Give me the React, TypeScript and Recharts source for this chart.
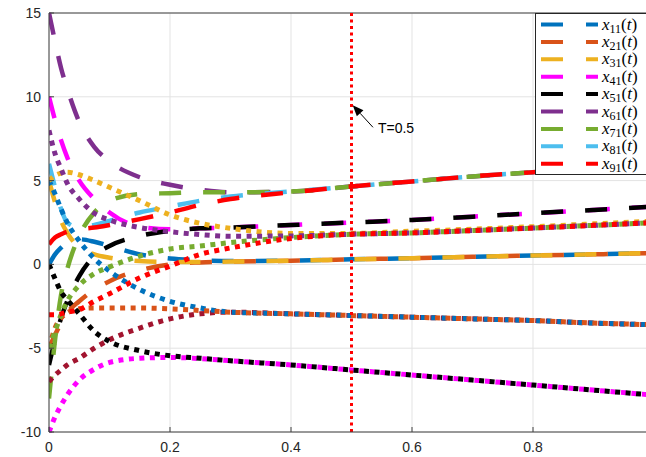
import { LineChart, Line, XAxis, YAxis, CartesianGrid, ReferenceLine } from "recharts";

// sample times
const t = [0, 0.01, 0.02, 0.03, 0.05, 0.075, 0.1, 0.15, 0.2, 0.25, 0.3, 0.4, 0.5, 0.6, 0.7, 0.8, 0.9, 1.0];

// first state of each agent (dashed)
const x11 = [0, 0.6, 1.0, 1.3, 1.5, 1.35, 1.1, 0.6, 0.35, 0.25, 0.2, 0.22, 0.3, 0.37, 0.45, 0.53, 0.6, 0.68];
const x21 = [-5, -4.2, -3.5, -2.9, -2.2, -1.5, -1.0, -0.35, 0.0, 0.12, 0.17, 0.22, 0.3, 0.37, 0.45, 0.53, 0.6, 0.68];
const x31 = [5, 3.7, 2.6, 1.9, 1.0, 0.6, 0.4, 0.2, 0.15, 0.15, 0.17, 0.22, 0.3, 0.37, 0.45, 0.53, 0.6, 0.68];
const x41 = [10, 8.6, 7.4, 6.4, 5.0, 3.9, 3.1, 2.25, 2.1, 2.15, 2.2, 2.35, 2.5, 2.65, 2.85, 3.05, 3.25, 3.45];
const x51 = [-6, -4.5, -3.2, -2.2, -0.7, 0.5, 1.1, 1.7, 2.0, 2.15, 2.2, 2.35, 2.5, 2.65, 2.85, 3.05, 3.25, 3.45];
const x61 = [15, 13.3, 11.7, 10.5, 8.5, 7.0, 6.15, 5.2, 4.75, 4.45, 4.3, 4.35, 4.65, 4.95, 5.25, 5.5, 5.8, 6.1];
const x71 = [-8, -4.5, -1.8, -0.3, 1.7, 3.1, 3.8, 4.2, 4.25, 4.3, 4.3, 4.35, 4.65, 4.95, 5.25, 5.5, 5.8, 6.1];
const x81 = [6, 4.6, 3.3, 2.5, 2.2, 2.35, 2.6, 3.1, 3.45, 3.8, 4.05, 4.35, 4.65, 4.95, 5.25, 5.5, 5.8, 6.1];
const x91 = [1.2, 1.6, 1.8, 1.95, 2.1, 2.2, 2.35, 2.7, 3.1, 3.55, 3.9, 4.3, 4.65, 4.95, 5.25, 5.5, 5.8, 6.1];

// second state of each agent (dotted)
const x12 = [5, 4.2, 3.3, 2.5, 1.4, 0.35, -0.4, -1.5, -2.2, -2.6, -2.85, -2.95, -3.05, -3.15, -3.25, -3.35, -3.5, -3.6];
const x22 = [-5, -3.8, -3.2, -2.9, -2.65, -2.6, -2.6, -2.6, -2.65, -2.75, -2.85, -2.95, -3.05, -3.15, -3.25, -3.35, -3.5, -3.6];
const x32 = [5, 5.3, 5.45, 5.5, 5.35, 5.0, 4.6, 3.8, 2.95, 2.45, 2.15, 1.85, 1.85, 1.98, 2.1, 2.25, 2.42, 2.58];
const x42 = [-10, -9.1, -8.4, -7.8, -6.9, -6.25, -5.85, -5.6, -5.55, -5.62, -5.75, -6.0, -6.3, -6.6, -6.9, -7.2, -7.5, -7.8];
const x52 = [0, -0.85, -1.65, -2.1, -2.95, -4.0, -4.6, -5.15, -5.45, -5.6, -5.75, -6.0, -6.3, -6.6, -6.9, -7.2, -7.5, -7.8];
const x62 = [8, 6.6, 5.7, 4.85, 3.9, 3.05, 2.65, 2.2, 1.95, 1.78, 1.68, 1.7, 1.8, 1.88, 2.02, 2.17, 2.33, 2.5];
const x72 = [-5, -4.0, -3.0, -2.2, -1.25, -0.55, -0.15, 0.5, 0.92, 1.1, 1.3, 1.6, 1.8, 1.88, 2.02, 2.17, 2.33, 2.5];
const x82 = [-7, -6.6, -6.3, -6.0, -5.6, -5.0, -4.5, -3.8, -3.25, -2.95, -2.85, -2.95, -3.05, -3.15, -3.25, -3.35, -3.5, -3.6];
const x92 = [-3, -3.0, -2.95, -2.85, -2.7, -2.2, -1.75, -0.8, -0.1, 0.6, 0.98, 1.55, 1.8, 1.88, 2.02, 2.17, 2.33, 2.5];

const xTicks = [0, 0.2, 0.4, 0.6, 0.8];
const yTicks = [-10, -5, 0, 5, 10, 15];

const dashed = [
  { key: "x11", sub: "11", color: "#0072BD", values: x11 },
  { key: "x21", sub: "21", color: "#D95319", values: x21 },
  { key: "x31", sub: "31", color: "#EDB120", values: x31 },
  { key: "x41", sub: "41", color: "#FF00FF", values: x41 },
  { key: "x51", sub: "51", color: "#000000", values: x51 },
  { key: "x61", sub: "61", color: "#7E2F8E", values: x61 },
  { key: "x71", sub: "71", color: "#77AC30", values: x71 },
  { key: "x81", sub: "81", color: "#4DBEEE", values: x81 },
  { key: "x91", sub: "91", color: "#FF0000", values: x91 },
];

const dotted = [
  { key: "x82", color: "#A2142F", values: x82 },
  { key: "x12", color: "#0072BD", values: x12 },
  { key: "x22", color: "#D95319", values: x22 },
  { key: "x32", color: "#EDB120", values: x32 },
  { key: "x42", color: "#FF00FF", values: x42 },
  { key: "x52", color: "#000000", values: x52 },
  { key: "x62", color: "#7E2F8E", values: x62 },
  { key: "x72", color: "#77AC30", values: x72 },
  { key: "x92", color: "#FF0000", values: x92 },
];

const data = t.map((tv, i) => {
  const row: Record<string, number> = { t: tv };
  [...dashed, ...dotted].forEach((s) => (row[s.key] = s.values[i]));
  return row;
});

const tickFont = { fill: "#262626", fontSize: 14, fontFamily: "Liberation Sans, Arial, sans-serif" };

// arrow from the text towards the switching line
function Arrow(props: any) {
  const { x1, y1, x2, y2 } = props;
  const ang = Math.atan2(y2 - y1, x2 - x1);
  const len = 11;
  const w = 4.5;
  const bx = x2 - len * Math.cos(ang);
  const by = y2 - len * Math.sin(ang);
  const px = -Math.sin(ang) * w;
  const py = Math.cos(ang) * w;
  return (
    <g>
      <line x1={x1} y1={y1} x2={bx} y2={by} stroke="#000" strokeWidth={1} />
      <polygon points={`${x2},${y2} ${bx + px},${by + py} ${bx - px},${by - py}`} fill="#000" />
      <text x={x1 + 5} y={y1 + 6} fontSize={14} fontFamily="Liberation Sans, Arial, sans-serif" fill="#000">
        T=0.5
      </text>
    </g>
  );
}

function LegendBox() {
  const rowH = 17.4;
  return (
    <div
      style={{
        position: "absolute",
        left: 535,
        top: 13,
        width: 130,
        height: 162,
        border: "1px solid #262626",
        background: "#fff",
        boxSizing: "border-box",
      }}
    >
      <svg width={130} height={162}>
        {dashed.map((s, i) => {
          const cy = 10.5 + i * rowH;
          return (
            <g key={s.key}>
              <line x1={5} x2={62} y1={cy} y2={cy} stroke={s.color} strokeWidth={4} strokeDasharray="22 23" />
              <text x={66} y={cy + 5} fontFamily="Liberation Serif, DejaVu Serif, serif" fontSize={17} fill="#000">
                <tspan fontStyle="italic">x</tspan>
                <tspan fontSize={12} dy={3}>{s.sub}</tspan>
                <tspan dy={-3}>(</tspan>
                <tspan fontStyle="italic">t</tspan>
                <tspan>)</tspan>
              </text>
            </g>
          );
        })}
      </svg>
    </div>
  );
}

export default function App() {
  return (
    <div
      style={{
        position: "absolute",
        left: 0,
        top: 0,
        width: 646,
        height: 457,
        overflow: "hidden",
        background: "#fff",
      }}
    >
      <LineChart width={654} height={457} data={data} margin={{ top: 13, right: 0, bottom: 0, left: 0 }}>
        <CartesianGrid stroke="#e3e3e3" strokeWidth={1} />
        <XAxis
          dataKey="t"
          type="number"
          domain={[0, 1]}
          ticks={xTicks}
          allowDataOverflow
          height={25}
          tickSize={-5}
          tickMargin={15}
          tickFormatter={(v: number) => String(v)}
          stroke="#404040"
          tick={tickFont}
        />
        <XAxis
          xAxisId="top"
          orientation="top"
          type="number"
          domain={[0, 1]}
          ticks={xTicks}
          height={0}
          tickSize={-5}
          stroke="#404040"
          tick={() => <g />}
        />
        <YAxis
          type="number"
          domain={[-10, 15]}
          ticks={yTicks}
          width={49}
          tickSize={-5}
          tickMargin={13}
          stroke="#404040"
          tick={tickFont}
        />
        {/* box edge along the top of the axes */}
        <ReferenceLine y={15} stroke="#404040" strokeWidth={1} />
        {dashed.map((s) => (
          <Line
            key={s.key}
            type="monotone"
            dataKey={s.key}
            stroke={s.color}
            strokeWidth={4.5}
            strokeDasharray="22 22"
            dot={false}
            activeDot={false}
            isAnimationActive={false}
          />
        ))}
        {dotted.map((s) => (
          <Line
            key={s.key}
            type="monotone"
            dataKey={s.key}
            stroke={s.color}
            strokeWidth={5}
            strokeDasharray="5 5.5"
            dot={false}
            activeDot={false}
            isAnimationActive={false}
          />
        ))}
        <ReferenceLine x={0.5} stroke="#FF0000" strokeWidth={3} strokeDasharray="3 3.5" />
        <ReferenceLine
          segment={[
            { x: 0.5355, y: 8.18 },
            { x: 0.502, y: 9.5 },
          ]}
          shape={Arrow}
        />
      </LineChart>
      <LegendBox />
    </div>
  );
}
